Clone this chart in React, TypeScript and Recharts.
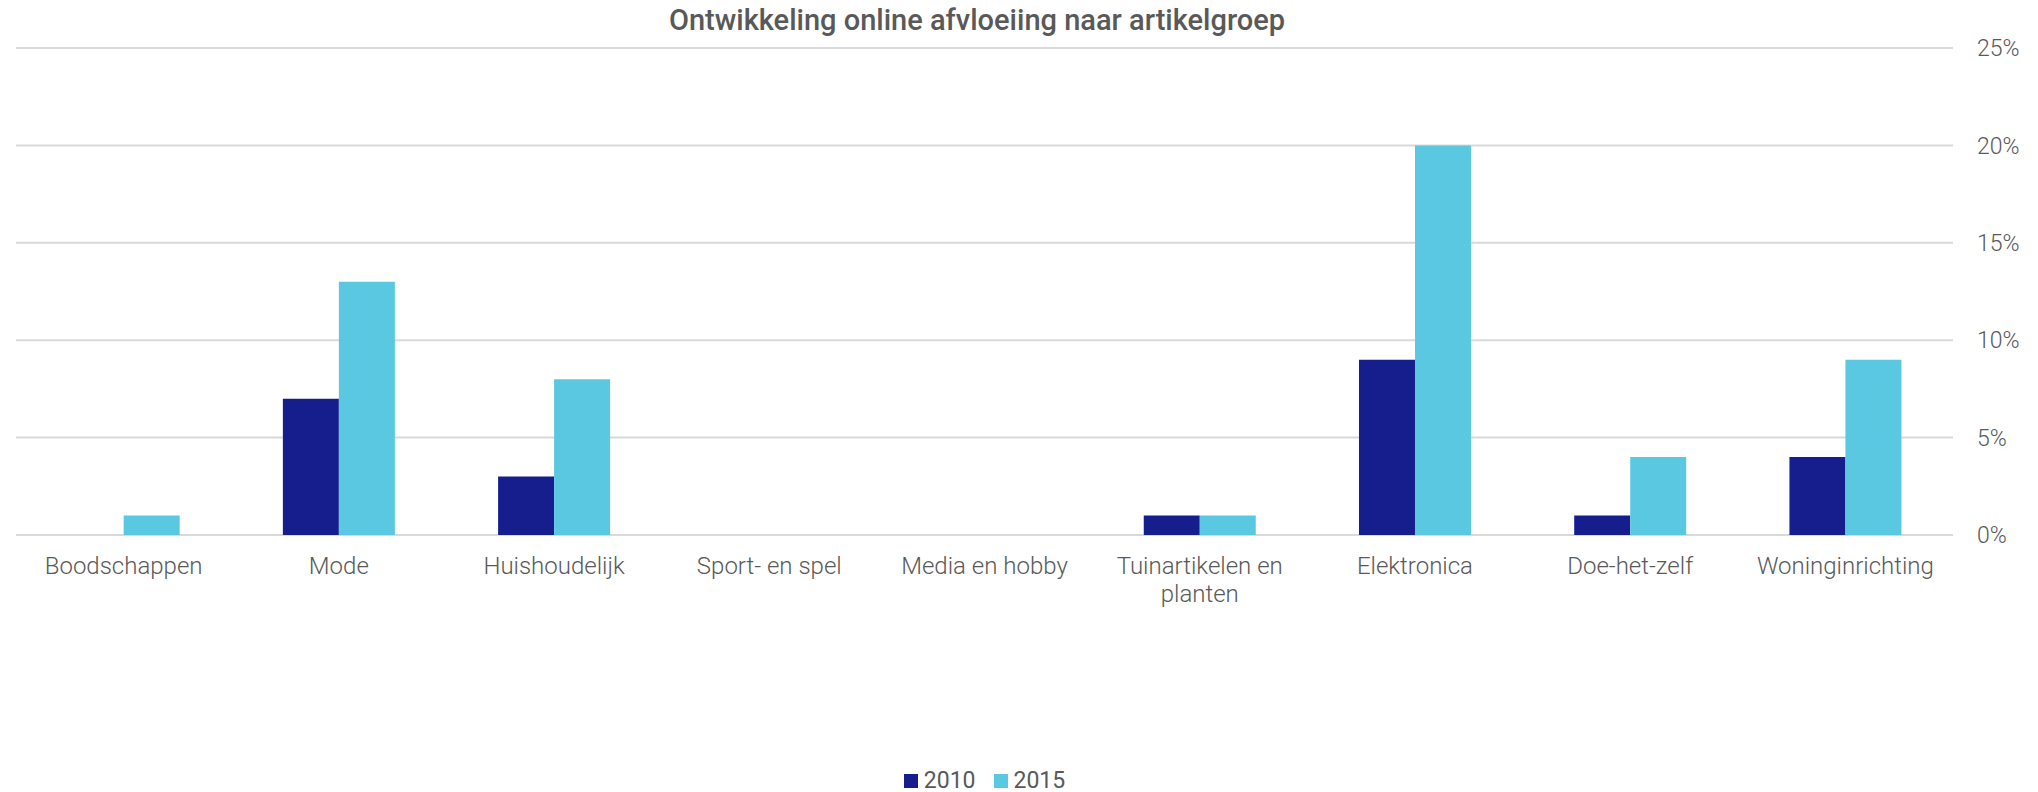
import React from "react";
import {
  BarChart,
  Bar,
  XAxis,
  YAxis,
  CartesianGrid,
  Legend
} from "recharts";

const categories = [
  "Boodschappen",
  "Mode",
  "Huishoudelijk",
  "Sport- en spel",
  "Media en hobby",
  "Tuinartikelen en planten",
  "Elektronica",
  "Doe-het-zelf",
  "Woninginrichting"
];
const values2010 = [0, 7, 3, 0, 0, 1, 9, 1, 4];
const values2015 = [1, 13, 8, 0, 0, 1, 20, 4, 9];
const yTicks = [0, 5, 10, 15, 20, 25];

const seriesInfo = [
  { key: "y2010", name: "2010", color: "#151E8C" },
  { key: "y2015", name: "2015", color: "#5BC8E2" }
];

const data = categories.map((name, i) => ({
  name,
  y2010: values2010[i],
  y2015: values2015[i]
}));

const textColor = "#595959";

// greedy word wrap, ~16 characters per line
const wrap = (label: string, max = 16) => {
  const lines: string[] = [];
  let cur = "";
  label.split(" ").forEach((w) => {
    const next = cur ? `${cur} ${w}` : w;
    if (next.length > max && cur) {
      lines.push(cur);
      cur = w;
    } else {
      cur = next;
    }
  });
  if (cur) lines.push(cur);
  return lines;
};

const CategoryTick = (props: any) => {
  const { x, y, payload } = props;
  const lines = wrap(String(payload.value));
  return (
    <text
      x={x}
      y={y}
      textAnchor="middle"
      fill={textColor}
      style={{ fontFamily: "Roboto", fontWeight: 300, fontSize: 24 }}
    >
      {lines.map((line, i) => (
        <tspan key={i} x={x} dy={i === 0 ? "0.71em" : "1.15em"}>
          {line}
        </tspan>
      ))}
    </text>
  );
};

const LegendContent = () => (
  <div style={{ display: "flex", justifyContent: "center", gap: 18, fontFamily: "Roboto", fontSize: 23, color: textColor }}>
    {seriesInfo.map((s) => (
      <div key={s.key} style={{ display: "flex", alignItems: "center" }}>
        <span style={{ width: 14, height: 14, background: s.color, display: "inline-block", marginRight: 6 }} />
        <span>{s.name}</span>
      </div>
    ))}
  </div>
);

export default function App() {
  return (
    <div style={{ position: "absolute", left: 0, top: 0, width: 2038, height: 792, background: "#fff" }}>
      <div
        style={{
          position: "absolute",
          left: 16,
          width: 1922,
          top: 3,
          textAlign: "center",
          fontFamily: "Roboto",
          fontWeight: 500,
          fontSize: 29,
          color: textColor
        }}
      >
        Ontwikkeling online afvloeiing naar artikelgroep
      </div>
      <BarChart
        width={2038}
        height={792}
        data={data}
        margin={{ top: 48, right: 0, left: 16, bottom: 0 }}
        barCategoryGap="24%"
        barGap={0}
      >
        <CartesianGrid vertical={false} stroke="#D9D9D9" strokeWidth={2} />
        <XAxis
          dataKey="name"
          axisLine={false}
          tickLine={false}
          tickSize={0}
          tickMargin={22}
          interval={0}
          height={229}
          tick={<CategoryTick />}
        />
        <YAxis
          orientation="right"
          domain={[0, 25]}
          ticks={yTicks}
          axisLine={false}
          tickLine={false}
          tickSize={0}
          tickMargin={24}
          width={85}
          tickFormatter={(v: number) => `${v}%`}
          tick={{ fill: textColor, fontSize: 23, fontFamily: "Roboto", fontWeight: 300, textAnchor: "start" }}
        />
        <Legend verticalAlign="bottom" content={<LegendContent />} wrapperStyle={{ left: 16, width: 1937, height: 28, bottom: -3 }} />
        {seriesInfo.map((s) => (
          <Bar key={s.key} dataKey={s.key} name={s.name} fill={s.color} isAnimationActive={false} />
        ))}
      </BarChart>
    </div>
  );
}
